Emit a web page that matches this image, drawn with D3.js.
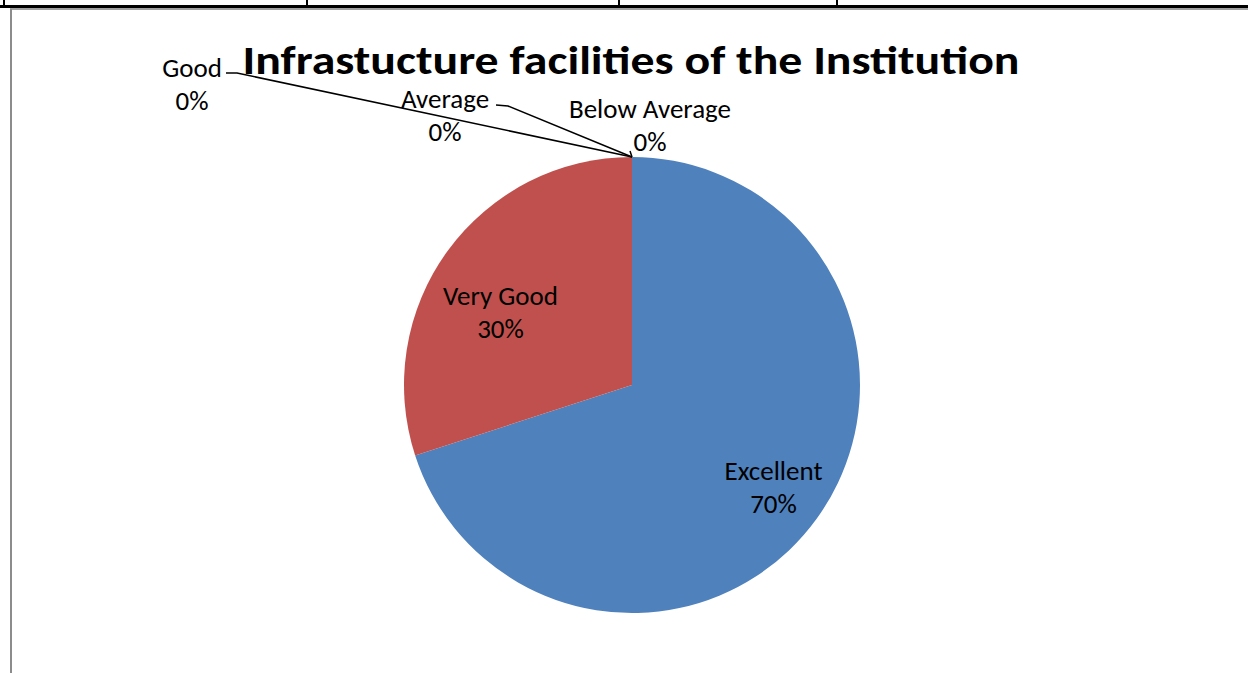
<!DOCTYPE html>
<html>
<head>
<meta charset="utf-8">
<script src="https://cdn.jsdelivr.net/npm/d3@7"></script>
<style>
  html, body { margin: 0; padding: 0; background: #fff; }
  svg { display: block; }
</style>
</head>
<body>
<svg id="chart" width="1248" height="673"></svg>
<script>
// ---- Data ----
const categories = ["Excellent", "Very Good", "Good", "Average", "Below Average"];
const values = [70, 30, 0, 0, 0];
const percentLabels = ["70%", "30%", "0%", "0%", "0%"];
const colors = ["#4F81BD", "#C0504D", "#9BBB59", "#8064A2", "#4BACC6"];
const title = "Infrastucture facilities of the Institution";

// ---- Layout ----
const width = 1248, height = 673;
const cx = 632, cy = 385, radius = 228;
const font = "Carlito, Calibri, 'Open Sans', sans-serif";
const labelSize = 27;

// manual label spots for the zero slices (Excel moved them out)
const outsideLabels = {
  "Good":          { x: 192, y: 77, leader: [[226, 73], [237, 73]] },
  "Average":       { x: 445, y: 108, leader: [[496, 105], [508, 106]] },
  "Below Average": { x: 650, y: 118, leader: [[630, 151]] }
};
// small nudges for the inside labels
const insideNudge = { "Excellent": [8, 5], "Very Good": [2, 24] };

const svg = d3.select("#chart");

// ---- Frame (table borders from the page) ----
svg.append("rect").attr("x", 0).attr("y", 5).attr("width", width).attr("height", 3).attr("fill", "#000");
svg.append("rect").attr("x", 10).attr("y", 8).attr("width", width - 10).attr("height", 2).attr("fill", "#a0a0a0");
[3, 306, 618, 836].forEach(x => {
  svg.append("rect").attr("x", x).attr("y", 0).attr("width", 2).attr("height", 6).attr("fill", "#000");
});
svg.append("rect").attr("x", 10).attr("y", 9).attr("width", 2).attr("height", height - 9).attr("fill", "#8c8c8c");

// ---- Pie ----
const pie = d3.pie().sort(null).value(d => d.value);
const arcs = pie(categories.map((c, i) => ({ name: c, value: values[i], label: percentLabels[i], color: colors[i] })));
const arc = d3.arc().innerRadius(0).outerRadius(radius);
const labelArc = d3.arc().innerRadius(165).outerRadius(165);

const g = svg.append("g").attr("transform", `translate(${cx},${cy})`);

g.selectAll("path.slice")
  .data(arcs.filter(d => d.value > 0))
  .enter().append("path")
  .attr("class", "slice")
  .attr("d", arc)
  .attr("fill", d => d.data.color);

// ---- Inside labels ----
arcs.filter(d => d.value > 0).forEach(d => {
  const [x, y] = labelArc.centroid(d);
  const n = insideNudge[d.data.name] || [0, 0];
  const t = g.append("text")
    .attr("text-anchor", "middle")
    .attr("font-family", font)
    .attr("font-size", labelSize)
    .attr("fill", "#000");
  t.append("tspan").attr("x", x + n[0]).attr("y", y + n[1] - 7).text(d.data.name);
  t.append("tspan").attr("x", x + n[0]).attr("y", y + n[1] + 26).text(d.data.label);
});

// ---- Outside labels with leader lines ----
arcs.filter(d => d.value === 0).forEach(d => {
  const spot = outsideLabels[d.data.name];
  const a = d.startAngle;
  const edge = [cx + radius * Math.sin(a), cy - radius * Math.cos(a)];
  const pts = spot.leader.concat([edge]);
  svg.append("path")
    .attr("d", d3.line()(pts))
    .attr("fill", "none")
    .attr("stroke", "#000")
    .attr("stroke-width", 1.5);
  const t = svg.append("text")
    .attr("text-anchor", "middle")
    .attr("font-family", font)
    .attr("font-size", labelSize)
    .attr("fill", "#000");
  t.append("tspan").attr("x", spot.x).attr("y", spot.y).text(d.data.name);
  t.append("tspan").attr("x", spot.x).attr("y", spot.y + 33).text(d.data.label);
});

// ---- Title ----
svg.append("text")
  .attr("x", 631).attr("y", 74)
  .attr("text-anchor", "middle")
  .attr("font-family", font)
  .attr("font-weight", "bold")
  .attr("font-size", 40)
  .attr("textLength", 777)
  .attr("lengthAdjust", "spacingAndGlyphs")
  .text(title);
</script>
</body>
</html>
